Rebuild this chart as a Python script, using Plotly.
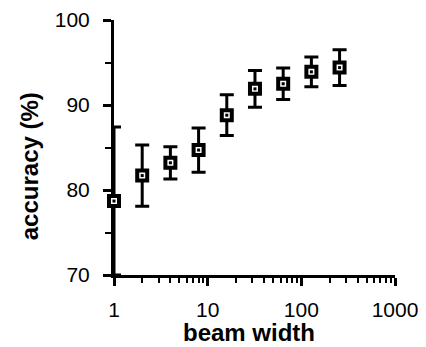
import plotly.graph_objects as go

beam_width = [1, 2, 4, 8, 16, 32, 64, 128, 256]
accuracy = [78.7, 81.7, 83.2, 84.7, 88.8, 91.9, 92.5, 93.9, 94.4]
error = [8.7, 3.6, 1.9, 2.6, 2.4, 2.15, 1.85, 1.75, 2.1]

x_tickvals = [1, 10, 100, 1000]
x_ticktext = ["1", "10", "100", "1000"]
x_minor = [2, 3, 4, 5, 6, 7, 8, 9, 20, 30, 40, 50, 60, 70, 80, 90,
           200, 300, 400, 500, 600, 700, 800, 900]
y_tickvals = [70, 80, 90, 100]

FONT = "Liberation Sans, Arial, Helvetica, sans-serif"

fig = go.Figure()
fig.add_trace(go.Scatter(
    x=beam_width, y=accuracy, mode="markers",
    error_y=dict(type="data", array=error, color="black", thickness=3, width=7),
    marker=dict(symbol="square", size=10, color="white",
                line=dict(color="black", width=4)),
    cliponaxis=False, showlegend=False,
))
fig.add_trace(go.Scatter(
    x=beam_width, y=accuracy, mode="markers",
    marker=dict(symbol="square", size=3, color="black", line=dict(width=0)),
    cliponaxis=False, showlegend=False,
))

fig.update_layout(
    width=418, height=339,
    margin=dict(l=106, r=31, t=12, b=72, autoexpand=False),
    paper_bgcolor="white", plot_bgcolor="white",
    font=dict(family=FONT, color="black"),
    xaxis=dict(
        type="log", range=[0, 3], showgrid=False, zeroline=False,
        automargin=False,
        showline=True, linecolor="black", linewidth=3, layer="below traces",
        tickvals=x_tickvals, ticktext=x_ticktext,
        ticks="outside", ticklen=8, tickwidth=2.5, tickcolor="black",
        tickfont=dict(size=21, family=FONT, color="black"),
        ticklabelstandoff=6,
        minor=dict(tickvals=x_minor, ticks="outside", ticklen=5,
                   tickwidth=2, tickcolor="black", showgrid=False),
    ),
    yaxis=dict(
        range=[70, 100], showgrid=False, zeroline=False,
        automargin=False,
        showline=True, linecolor="black", linewidth=3, layer="below traces",
        tickvals=y_tickvals,
        ticks="outside", ticklen=8, tickwidth=2.5, tickcolor="black",
        tickfont=dict(size=21, family=FONT, color="black"),
        ticklabelstandoff=9,
        minor=dict(dtick=5, ticks="outside", ticklen=6, tickwidth=2,
                   tickcolor="black", showgrid=False),
    ),
    annotations=[
        dict(text="<b>beam width</b>", xref="paper", yref="paper",
             x=0.48, y=-0.227, xanchor="center", yanchor="middle",
             showarrow=False, font=dict(size=24, family=FONT, color="black")),
        dict(text="<b>accuracy (%)</b>", xref="paper", yref="paper",
             x=-0.302, y=0.427, xanchor="center", yanchor="middle",
             textangle=-90, showarrow=False,
             font=dict(size=24, family=FONT, color="black")),
    ],
)

fig.write_html("out.html")
